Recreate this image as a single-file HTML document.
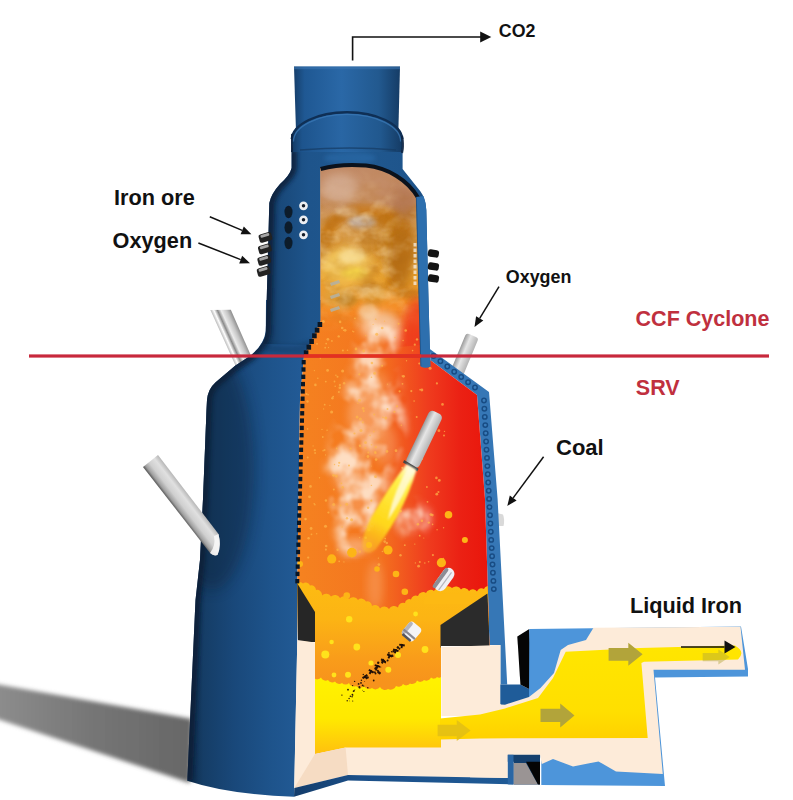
<!DOCTYPE html>
<html><head><meta charset="utf-8">
<style>html,body{margin:0;padding:0;background:#fff}svg{display:block}</style>
</head><body>
<svg width="793" height="800" viewBox="0 0 793 800" font-family="'Liberation Sans', Arial, sans-serif" font-weight="bold">
<defs>
<linearGradient id="gChim" gradientUnits="userSpaceOnUse" x1="294" x2="400" y1="0" y2="0">
 <stop offset="0" stop-color="#163f6b"/><stop offset="0.1" stop-color="#1f5893"/><stop offset="0.45" stop-color="#2a68a7"/><stop offset="0.8" stop-color="#22598f"/><stop offset="1" stop-color="#153c66"/>
</linearGradient>
<linearGradient id="gCol" gradientUnits="userSpaceOnUse" x1="291" x2="403" y1="0" y2="0">
 <stop offset="0" stop-color="#133962"/><stop offset="0.1" stop-color="#1d548d"/><stop offset="0.45" stop-color="#2966a4"/><stop offset="0.8" stop-color="#21588e"/><stop offset="1" stop-color="#143a63"/>
</linearGradient>
<linearGradient id="gCyc" gradientUnits="userSpaceOnUse" x1="268" x2="430" y1="0" y2="0">
 <stop offset="0" stop-color="#143b63"/><stop offset="0.08" stop-color="#19497a"/><stop offset="0.25" stop-color="#1e548b"/><stop offset="0.6" stop-color="#20588f"/><stop offset="0.9" stop-color="#1e548b"/><stop offset="1" stop-color="#1a4b7e"/>
</linearGradient>
<linearGradient id="gBody" gradientUnits="userSpaceOnUse" x1="190" x2="300" y1="0" y2="0">
 <stop offset="0" stop-color="#0f2c4b"/><stop offset="0.12" stop-color="#153d66"/><stop offset="0.4" stop-color="#19487a"/><stop offset="0.75" stop-color="#1e548c"/><stop offset="1" stop-color="#225a95"/>
</linearGradient>
<linearGradient id="gInt" gradientUnits="userSpaceOnUse" x1="300" x2="488" y1="0" y2="0">
 <stop offset="0" stop-color="#f58220"/><stop offset="0.42" stop-color="#f4741f"/><stop offset="0.68" stop-color="#ef3c1e"/><stop offset="0.85" stop-color="#eb2114"/><stop offset="1" stop-color="#e9160c"/>
</linearGradient>
<linearGradient id="gCycInt" gradientUnits="userSpaceOnUse" x1="0" x2="0" y1="165" y2="335">
 <stop offset="0" stop-color="#c08864"/><stop offset="0.22" stop-color="#c9915f"/><stop offset="0.45" stop-color="#d99c45"/><stop offset="0.66" stop-color="#eaa432"/><stop offset="0.85" stop-color="#f58c26"/><stop offset="1" stop-color="#f58220" stop-opacity="0"/>
</linearGradient>
<linearGradient id="gPipe" x1="0" x2="1" y1="0" y2="0">
 <stop offset="0" stop-color="#8d8d8d"/><stop offset="0.35" stop-color="#f4f4f4"/><stop offset="0.7" stop-color="#c8c8c8"/><stop offset="1" stop-color="#8a8a8a"/>
</linearGradient>
<linearGradient id="gPipeLL" x1="0" x2="1" y1="0" y2="0">
 <stop offset="0" stop-color="#8a8a8a"/><stop offset="0.1" stop-color="#c2c2c2"/><stop offset="0.4" stop-color="#e9e9e9"/><stop offset="0.75" stop-color="#d2d2d2"/><stop offset="1" stop-color="#6e6e6e"/>
</linearGradient>
<linearGradient id="gPipeR" x1="0" x2="1" y1="0" y2="0">
 <stop offset="0" stop-color="#9a9a9a"/><stop offset="0.4" stop-color="#e6e6e6"/><stop offset="1" stop-color="#b4b4b4"/>
</linearGradient>
<linearGradient id="gYel" gradientUnits="userSpaceOnUse" x1="0" x2="0" y1="678" y2="752">
 <stop offset="0" stop-color="#fff200"/><stop offset="0.55" stop-color="#ffe900"/><stop offset="1" stop-color="#ffc20e"/>
</linearGradient>
<linearGradient id="gYel2" gradientUnits="userSpaceOnUse" x1="0" x2="0" y1="645" y2="740">
 <stop offset="0" stop-color="#ffe600"/><stop offset="0.7" stop-color="#ffdf00"/><stop offset="1" stop-color="#ffd000"/>
</linearGradient>
<linearGradient id="gShadow" gradientUnits="userSpaceOnUse" x1="0" x2="190" y1="0" y2="0">
 <stop offset="0" stop-color="#8c8c8c"/><stop offset="0.5" stop-color="#757575"/><stop offset="1" stop-color="#676767"/>
</linearGradient>
<linearGradient id="gFlame" gradientUnits="userSpaceOnUse" x1="412" x2="366" y1="466" y2="546">
 <stop offset="0" stop-color="#fffbe6"/><stop offset="0.2" stop-color="#fff04a"/><stop offset="0.7" stop-color="#ffd71a"/><stop offset="1" stop-color="#ffc320" stop-opacity="0.5"/>
</linearGradient>
<filter id="fCloudA" x="0" y="0" width="100%" height="100%" color-interpolation-filters="sRGB"><feTurbulence type="fractalNoise" baseFrequency="0.045 0.06" numOctaves="3" seed="11"/><feColorMatrix type="matrix" values="0 0 0 0 0.70  0 0 0 0 0.42  0 0 0 0 0.08  2.6 0 0 0 -1.05"/></filter>
<filter id="fCloudB" x="0" y="0" width="100%" height="100%" color-interpolation-filters="sRGB"><feTurbulence type="fractalNoise" baseFrequency="0.05 0.07" numOctaves="3" seed="29"/><feColorMatrix type="matrix" values="0 0 0 0 0.97  0 0 0 0 0.86  0 0 0 0 0.66  0 2.6 0 0 -1.15"/></filter>
<filter id="fSmoke" x="-20%" y="-10%" width="140%" height="120%" color-interpolation-filters="sRGB"><feGaussianBlur in="SourceAlpha" stdDeviation="5" result="shape"/><feTurbulence type="fractalNoise" baseFrequency="0.045 0.04" numOctaves="3" seed="8" result="n"/><feColorMatrix in="n" type="matrix" values="0 0 0 0 1  0 0 0 0 0.94  0 0 0 0 0.88  3.4 0 0 0 -1.35" result="wn"/><feComposite in="wn" in2="shape" operator="in" result="c"/><feGaussianBlur in="c" stdDeviation="0.8"/></filter>
<filter id="b05" x="-20%" y="-20%" width="140%" height="140%"><feGaussianBlur stdDeviation="0.6"/></filter>
<filter id="b1" x="-20%" y="-20%" width="140%" height="140%"><feGaussianBlur stdDeviation="1.2"/></filter>
<filter id="b2" x="-30%" y="-30%" width="160%" height="160%"><feGaussianBlur stdDeviation="2.2"/></filter>
<filter id="b4" x="-30%" y="-30%" width="160%" height="160%"><feGaussianBlur stdDeviation="4"/></filter>
<filter id="b7" x="-40%" y="-40%" width="180%" height="180%"><feGaussianBlur stdDeviation="7"/></filter>
<clipPath id="cInt"><path d="M320.6 168 C335 164 352 163.3 366 164.6 C388 167 408 179 418 197 L420.7 366 L430.8 360.5 L477 395 L485 499 L488 593.5 L489.4 646 L441 646 L441 748 L345.6 748 L315 754 L315 642 L298 642 L297.3 583 L300 400 L304 356 L320.6 321 Z"/></clipPath>
<clipPath id="cCyc"><path d="M320.6 168 C335 164 352 163.3 366 164.6 C388 167 408 179 418 197 L420.5 345 L304 356 L320.6 321 Z"/></clipPath>
</defs>

<path d="M-10 683 L192 719 L190 783 L-10 716.5 Z" fill="url(#gShadow)" filter="url(#b2)"/>
<linearGradient id="gPipeUL" gradientUnits="userSpaceOnUse" x1="216" y1="330" x2="236" y2="321"><stop offset="0" stop-color="#666"/><stop offset="0.12" stop-color="#b0b0b0"/><stop offset="0.28" stop-color="#ffffff"/><stop offset="0.43" stop-color="#8a8a8a"/><stop offset="0.58" stop-color="#ececec"/><stop offset="0.8" stop-color="#c6c6c6"/><stop offset="1" stop-color="#8c8c8c"/></linearGradient>
<path d="M210.4 310 L230.8 309.7 L252 358 L238 371 Z" fill="url(#gPipeUL)"/>
<g transform="translate(472.5 335.5) rotate(22.57)"><rect x="-6.75" y="0" width="13.5" height="41.7" fill="url(#gPipeR)" rx="3"/></g>
<path d="M497 513 L503 514.5 Q505 520 503.5 526 L498 526 Z" fill="#d9d9d9"/>
<clipPath id="cLeft"><path d="M291.6 150 L291.6 168 Q290 175 280 184 Q271 194 269.3 203 L265.8 333 Q264 345 250 356 L235.4 365.6 L215.7 382.3 Q208 389 207 400 L206.5 410 L203 499 L200 560 L195.5 600 L187.3 780.8 Q228 794.5 294 796.8 L297.3 640 L297.3 583 L300 400 L304 356 L320.6 321 L320.6 150 Z"/></clipPath>
<path d="M265.8 331 Q264 345 250 356 L235.4 365.6 L215.7 382.3 Q208 389 207 400 L206.5 410 L203 499 L200 560 L195.5 600 L187.3 780.8 Q228 794.5 294 796.8 L297.3 640 L297.3 583 L300 400 L304 356 L320.6 321 L320.6 300 L266 300 Z" fill="url(#gBody)"/>
<path d="M269.3 203 Q271 194 280 184 Q290 175 291.6 168 L291.6 150 L402.6 150 L402.6 169 L420.5 191.5 Q425.5 198 426.3 210 L428.5 300 L429.8 349 L430.8 366 L420.7 367 L416.5 196 L320.6 168 L320.6 321 L310 345 L264 344 L265.8 333 Z" fill="url(#gCyc)"/>
<g clip-path="url(#cLeft)"><path d="M291.6 150 L291.6 168 Q290 175 280 184 Q271 194 269.3 203 L265.8 333 Q264 345 250 356 L235.4 365.6 L215.7 382.3 Q208 389 207 400 L206.5 410 L203 499 L200 560 L195.5 600 L187.3 780.8" fill="none" stroke="#081d34" stroke-width="11" opacity="0.8" filter="url(#b2)"/>
<path d="M262 342 Q290 350 312 340 L304 356 L262 352 Z" fill="#0d2a4a" opacity="0.35" filter="url(#b2)"/>
<ellipse cx="212" cy="470" rx="42" ry="120" fill="#0a2038" opacity="0.42" filter="url(#b7)"/>
<linearGradient id="gBot" gradientUnits="userSpaceOnUse" x1="0" x2="0" y1="600" y2="800"><stop offset="0" stop-color="#0d2744" stop-opacity="0"/><stop offset="1" stop-color="#0d2744" stop-opacity="0.0"/></linearGradient><rect x="180" y="600" width="125" height="200" fill="url(#gBot)"/>
</g>
<path d="M294 66.5 L400 66.5 L398.2 138 L296.2 138 Z" fill="url(#gChim)"/>
<path d="M294 66.5 L400 66.5 L400 69.3 L294 69.3 Z" fill="#3a75b0" opacity="0.6"/>
<path d="M291.5 139 A55.5 28 0 0 1 402.6 139 L402.6 152 L291.5 152 Z" fill="url(#gCol)"/>
<path d="M291.8 139 A55.3 28 0 0 1 402.3 139" fill="none" stroke="#0f2f55" stroke-width="2.4"/>
<path d="M293.5 141.5 A53.5 27 0 0 1 400.6 141.5" fill="none" stroke="#3b79b7" stroke-width="1.3" opacity="0.75"/>
<path d="M292.3 134 Q290.3 143 292.3 152" fill="none" stroke="#0b2340" stroke-width="2.6" opacity="0.9" filter="url(#b05)"/>
<path d="M401.9 136 Q403.9 145 401.9 153" fill="none" stroke="#0b2340" stroke-width="2.4" opacity="0.85" filter="url(#b05)"/>
<path d="M300 150 Q351 146 396 150" fill="none" stroke="#153a63" stroke-width="1.6" opacity="0.7"/>
<ellipse cx="350" cy="158" rx="26" ry="6" fill="#2f72b4" opacity="0.45" filter="url(#b2)"/>
<path d="M429.8 349 L489 392 L497.6 499 L507.2 684.4 L500.3 684.4 L500.3 645 L489.4 645 L488 593.5 L485 499 L477 395 L430.8 360.5 Z" fill="#3677b6"/>
<g clip-path="url(#cInt)">
<rect x="290" y="150" width="210" height="610" fill="url(#gInt)"/>
<g clip-path="url(#cCyc)">
<rect x="300" y="150" width="130" height="210" fill="url(#gCycInt)"/>
<ellipse cx="338" cy="186" rx="16" ry="14" fill="#d3ad92" opacity="0.7" filter="url(#b4)"/>
<ellipse cx="398" cy="192" rx="20" ry="18" fill="#b57852" opacity="0.65" filter="url(#b4)"/>
<ellipse cx="372" cy="180" rx="20" ry="8" fill="#c79273" opacity="0.6" filter="url(#b4)"/>
<path d="M322 232 Q328 210 358 203 Q392 202 408 222 Q416 244 404 270 Q396 286 384 290 Q400 262 392 236 Q380 216 356 216 Q336 220 330 240 Q326 250 322 246 Z" fill="#c87715" opacity="0.85" filter="url(#b2)"/>
<ellipse cx="398" cy="258" rx="14" ry="28" fill="#bd7416" opacity="0.8" filter="url(#b4)"/>
<ellipse cx="384" cy="246" rx="10" ry="14" fill="#c47a18" opacity="0.7" filter="url(#b4)"/>
<ellipse cx="332" cy="236" rx="10" ry="12" fill="#d0831e" opacity="0.65" filter="url(#b4)"/>
<ellipse cx="362" cy="222" rx="14" ry="7" fill="#c2b1a6" opacity="0.85" filter="url(#b2)"/>
<ellipse cx="346" cy="212" rx="12" ry="5" fill="#dcc0a2" opacity="0.6" filter="url(#b2)"/>
<ellipse cx="346" cy="262" rx="24" ry="12" fill="#efc05a" opacity="0.85" filter="url(#b4)"/>
<ellipse cx="354" cy="273" rx="13" ry="5.5" fill="#f8e22e" opacity="0.9" filter="url(#b2)"/>
<ellipse cx="338" cy="296" rx="16" ry="12" fill="#dca440" opacity="0.75" filter="url(#b4)"/>
<ellipse cx="372" cy="292" rx="16" ry="12" fill="#d39a34" opacity="0.6" filter="url(#b4)"/>
<ellipse cx="348" cy="300" rx="10" ry="6" fill="#b9862c" opacity="0.55" filter="url(#b2)"/>
<linearGradient id="gFade" gradientUnits="userSpaceOnUse" x1="0" x2="0" y1="292" y2="332"><stop offset="0" stop-color="#fff"/><stop offset="1" stop-color="#000"/></linearGradient><mask id="mFade" maskUnits="userSpaceOnUse" x="300" y="150" width="140" height="200"><rect x="300" y="150" width="140" height="200" fill="url(#gFade)"/></mask>
<g mask="url(#mFade)"><rect x="318" y="160" width="104" height="175" filter="url(#fCloudA)" opacity="0.55"/>
<rect x="318" y="160" width="104" height="175" filter="url(#fCloudB)" opacity="0.5"/></g>
<ellipse cx="346" cy="268" rx="24" ry="20" fill="#f6cf62" opacity="0.5" filter="url(#b4)"/>
<ellipse cx="352" cy="256" rx="14" ry="7" fill="#fbe9b0" opacity="0.5" filter="url(#b2)"/>
<ellipse cx="402" cy="250" rx="12" ry="40" fill="#b06a12" opacity="0.5" filter="url(#b4)"/>
<ellipse cx="388" cy="222" rx="14" ry="10" fill="#b8700f" opacity="0.4" filter="url(#b4)"/>
<linearGradient id="gCop" gradientUnits="userSpaceOnUse" x1="0" x2="0" y1="165" y2="214"><stop offset="0" stop-color="#c18a66" stop-opacity="0.95"/><stop offset="0.6" stop-color="#c58d66" stop-opacity="0.7"/><stop offset="1" stop-color="#c8905f" stop-opacity="0"/></linearGradient>
<rect x="318" y="160" width="104" height="56" fill="url(#gCop)"/>
<ellipse cx="340" cy="188" rx="18" ry="14" fill="#dab8a2" opacity="0.6" filter="url(#b4)"/>
<ellipse cx="404" cy="202" rx="12" ry="16" fill="#ad6f4e" opacity="0.55" filter="url(#b4)"/>
<ellipse cx="418" cy="338" rx="16" ry="40" fill="#ef3a1e" opacity="0.75" filter="url(#b4)"/>
<ellipse cx="380" cy="326" rx="20" ry="15" fill="#fbdcc0" opacity="0.7" filter="url(#b4)"/>
<ellipse cx="368" cy="312" rx="10" ry="8" fill="#f6d9b6" opacity="0.6" filter="url(#b2)"/>
</g>
<path d="M330 283 l9 -3 l1 3 l-9 3 z" fill="#b5b0a0" opacity="0.9"/>
<path d="M330 296 l9 -3 l1 3 l-9 3 z" fill="#b5b0a0" opacity="0.9"/>
<path d="M330 309 l9 -3 l1 3 l-9 3 z" fill="#b5b0a0" opacity="0.9"/>
<rect x="413.5" y="243" width="3" height="3.5" fill="#f4e9d8" opacity="0.8"/>
<rect x="413.5" y="248.5" width="3" height="3.5" fill="#f4e9d8" opacity="0.8"/>
<rect x="413.5" y="254" width="3" height="3.5" fill="#f4e9d8" opacity="0.8"/>
<rect x="413.5" y="259.5" width="3" height="3.5" fill="#f4e9d8" opacity="0.8"/>
<rect x="413.5" y="265" width="3" height="3.5" fill="#f4e9d8" opacity="0.8"/>
<rect x="413.5" y="270.5" width="3" height="3.5" fill="#f4e9d8" opacity="0.8"/>
<rect x="413.5" y="276" width="3" height="3.5" fill="#f4e9d8" opacity="0.8"/>
<rect x="413.5" y="281.5" width="3" height="3.5" fill="#f4e9d8" opacity="0.8"/>
<ellipse cx="368" cy="415" rx="20" ry="26" fill="#ffe9d6" opacity="0.3" filter="url(#b4)"/>
<ellipse cx="348" cy="470" rx="16" ry="24" fill="#ffe9d6" opacity="0.26" filter="url(#b4)"/>
<ellipse cx="385" cy="445" rx="12" ry="20" fill="#ffe9d6" opacity="0.2" filter="url(#b4)"/>
<ellipse cx="360" cy="500" rx="18" ry="22" fill="#ffe9d6" opacity="0.22" filter="url(#b4)"/>
<ellipse cx="408" cy="522" rx="14" ry="12" fill="#ffe9d6" opacity="0.28" filter="url(#b4)"/>
<ellipse cx="372" cy="385" rx="18" ry="14" fill="#ffe9d6" opacity="0.18" filter="url(#b4)"/>
<ellipse cx="355" cy="546" rx="16" ry="8" fill="#ffe9d6" opacity="0.4" filter="url(#b4)"/>
<ellipse cx="375" cy="585" rx="8" ry="24" fill="#ffe9d6" opacity="0.2" filter="url(#b4)"/>
<path d="M362 318 Q392 312 398 336 Q398 356 392 372 Q400 384 402 400 Q410 436 392 470 Q384 500 372 530 Q366 552 350 556 Q336 548 336 524 Q322 496 328 462 Q334 430 344 404 Q344 384 356 366 Q354 336 362 318 Z M396 500 Q420 496 430 516 Q428 536 408 538 Q394 530 396 500 Z" fill="#fff" filter="url(#fSmoke)" opacity="0.8"/>
<circle cx="350.3" cy="356.0" r="1.2" fill="#fdb648" opacity="0.7"/>
<circle cx="315.1" cy="453.0" r="0.9" fill="#fdb648" opacity="0.7"/>
<circle cx="313.1" cy="445.9" r="0.6" fill="#fdb648" opacity="0.7"/>
<circle cx="365.7" cy="335.6" r="0.7" fill="#fdb648" opacity="0.7"/>
<circle cx="364.4" cy="526.4" r="0.7" fill="#fdb648" opacity="0.7"/>
<circle cx="336.3" cy="476.1" r="1.5" fill="#fdb648" opacity="0.7"/>
<circle cx="385.8" cy="418.0" r="1.5" fill="#fdb648" opacity="0.7"/>
<circle cx="311.5" cy="534.3" r="0.9" fill="#fdb648" opacity="0.7"/>
<circle cx="325.2" cy="347.7" r="0.9" fill="#fdb648" opacity="0.7"/>
<circle cx="419.3" cy="363.5" r="1.1" fill="#fdb648" opacity="0.7"/>
<circle cx="394.4" cy="411.8" r="1.1" fill="#fdb648" opacity="0.7"/>
<circle cx="333.8" cy="489.5" r="1.0" fill="#fdb648" opacity="0.7"/>
<circle cx="349.0" cy="465.6" r="1.0" fill="#fdb648" opacity="0.7"/>
<circle cx="347.0" cy="518.2" r="1.2" fill="#fdb648" opacity="0.7"/>
<circle cx="339.2" cy="462.8" r="1.1" fill="#fdb648" opacity="0.7"/>
<circle cx="427.5" cy="501.8" r="0.9" fill="#fdb648" opacity="0.7"/>
<circle cx="442.2" cy="347.8" r="1.0" fill="#fdb648" opacity="0.7"/>
<circle cx="411.0" cy="356.3" r="1.0" fill="#fdb648" opacity="0.7"/>
<circle cx="310.5" cy="486.4" r="1.3" fill="#fdb648" opacity="0.7"/>
<circle cx="385.2" cy="538.6" r="0.9" fill="#fdb648" opacity="0.7"/>
<circle cx="402.3" cy="467.8" r="1.1" fill="#fdb648" opacity="0.7"/>
<circle cx="368.9" cy="529.7" r="1.5" fill="#fdb648" opacity="0.7"/>
<circle cx="371.4" cy="485.4" r="0.7" fill="#fdb648" opacity="0.7"/>
<circle cx="403.2" cy="481.1" r="1.5" fill="#fdb648" opacity="0.7"/>
<circle cx="420.1" cy="389.7" r="0.9" fill="#fdb648" opacity="0.7"/>
<circle cx="398.6" cy="323.7" r="1.0" fill="#fdb648" opacity="0.7"/>
<circle cx="328.5" cy="347.5" r="0.7" fill="#fdb648" opacity="0.7"/>
<circle cx="412.6" cy="350.6" r="0.8" fill="#fdb648" opacity="0.7"/>
<circle cx="359.7" cy="537.6" r="0.7" fill="#fdb648" opacity="0.7"/>
<circle cx="367.9" cy="456.5" r="1.4" fill="#fdb648" opacity="0.7"/>
<circle cx="419.7" cy="535.7" r="0.9" fill="#fdb648" opacity="0.7"/>
<circle cx="363.1" cy="408.4" r="1.4" fill="#fdb648" opacity="0.7"/>
<circle cx="439.1" cy="356.0" r="0.8" fill="#fdb648" opacity="0.7"/>
<circle cx="337.5" cy="376.8" r="1.0" fill="#fdb648" opacity="0.7"/>
<circle cx="387.5" cy="384.2" r="0.6" fill="#fdb648" opacity="0.7"/>
<circle cx="363.7" cy="411.1" r="1.1" fill="#fdb648" opacity="0.7"/>
<circle cx="438.4" cy="492.0" r="1.1" fill="#fdb648" opacity="0.7"/>
<circle cx="391.5" cy="488.4" r="0.6" fill="#fdb648" opacity="0.7"/>
<circle cx="430.9" cy="514.6" r="1.4" fill="#fdb648" opacity="0.7"/>
<circle cx="416.7" cy="416.9" r="1.0" fill="#fdb648" opacity="0.7"/>
<circle cx="319.5" cy="477.8" r="0.7" fill="#fdb648" opacity="0.7"/>
<circle cx="314.4" cy="370.6" r="0.7" fill="#fdb648" opacity="0.7"/>
<circle cx="352.6" cy="331.2" r="0.6" fill="#fdb648" opacity="0.7"/>
<circle cx="326.2" cy="343.6" r="0.9" fill="#fdb648" opacity="0.7"/>
<circle cx="308.6" cy="538.3" r="1.2" fill="#fdb648" opacity="0.7"/>
<circle cx="325.8" cy="381.6" r="0.9" fill="#fdb648" opacity="0.7"/>
<circle cx="356.0" cy="349.0" r="1.4" fill="#fdb648" opacity="0.7"/>
<circle cx="444.0" cy="435.4" r="1.0" fill="#fdb648" opacity="0.7"/>
<circle cx="317.0" cy="343.8" r="0.9" fill="#fdb648" opacity="0.7"/>
<circle cx="342.1" cy="526.9" r="0.7" fill="#fdb648" opacity="0.7"/>
<circle cx="308.2" cy="557.6" r="1.1" fill="#fdb648" opacity="0.7"/>
<circle cx="325.5" cy="454.9" r="0.6" fill="#fdb648" opacity="0.7"/>
<circle cx="378.9" cy="564.6" r="1.4" fill="#fdb648" opacity="0.7"/>
<circle cx="402.5" cy="383.8" r="0.9" fill="#fdb648" opacity="0.7"/>
<circle cx="328.4" cy="512.5" r="1.1" fill="#fdb648" opacity="0.7"/>
<circle cx="414.1" cy="401.1" r="0.8" fill="#fdb648" opacity="0.7"/>
<circle cx="418.6" cy="566.2" r="1.4" fill="#fdb648" opacity="0.7"/>
<circle cx="417.9" cy="524.2" r="1.3" fill="#fdb648" opacity="0.7"/>
<circle cx="336.7" cy="448.4" r="0.9" fill="#fdb648" opacity="0.7"/>
<circle cx="344.1" cy="383.3" r="1.2" fill="#fdb648" opacity="0.7"/>
<circle cx="438.9" cy="430.7" r="1.4" fill="#fdb648" opacity="0.7"/>
<circle cx="443.3" cy="558.7" r="0.9" fill="#fdb648" opacity="0.7"/>
<circle cx="335.9" cy="375.2" r="0.8" fill="#fdb648" opacity="0.7"/>
<circle cx="333.6" cy="475.3" r="1.4" fill="#fdb648" opacity="0.7"/>
<circle cx="422.7" cy="438.8" r="1.2" fill="#fdb648" opacity="0.7"/>
<circle cx="417.0" cy="339.4" r="1.2" fill="#fdb648" opacity="0.7"/>
<circle cx="432.4" cy="515.1" r="1.3" fill="#fdb648" opacity="0.7"/>
<circle cx="371.9" cy="363.0" r="1.3" fill="#fdb648" opacity="0.7"/>
<circle cx="351.6" cy="519.8" r="1.5" fill="#fdb648" opacity="0.7"/>
<circle cx="360.4" cy="419.1" r="1.5" fill="#fdb648" opacity="0.7"/>
<circle cx="406.5" cy="360.8" r="0.7" fill="#fdb648" opacity="0.7"/>
<circle cx="326.2" cy="546.0" r="1.3" fill="#fdb648" opacity="0.7"/>
<circle cx="325.5" cy="526.3" r="1.5" fill="#fdb648" opacity="0.7"/>
<circle cx="397.0" cy="406.3" r="1.1" fill="#fdb648" opacity="0.7"/>
<circle cx="323.3" cy="321.6" r="1.5" fill="#fdb648" opacity="0.7"/>
<circle cx="396.0" cy="450.7" r="1.4" fill="#fdb648" opacity="0.7"/>
<circle cx="365.7" cy="537.7" r="1.3" fill="#fdb648" opacity="0.7"/>
<circle cx="334.5" cy="381.5" r="0.9" fill="#fdb648" opacity="0.7"/>
<circle cx="338.7" cy="465.8" r="0.8" fill="#fdb648" opacity="0.7"/>
<circle cx="363.7" cy="351.0" r="1.4" fill="#fdb648" opacity="0.7"/>
<circle cx="354.5" cy="433.5" r="1.1" fill="#fdb648" opacity="0.7"/>
<circle cx="431.6" cy="424.0" r="1.4" fill="#fdb648" opacity="0.7"/>
<circle cx="375.2" cy="452.0" r="1.1" fill="#fdb648" opacity="0.7"/>
<circle cx="307.6" cy="428.9" r="0.8" fill="#fdb648" opacity="0.7"/>
<circle cx="305.6" cy="519.4" r="0.8" fill="#fdb648" opacity="0.7"/>
<circle cx="371.3" cy="500.7" r="1.1" fill="#fdb648" opacity="0.7"/>
<circle cx="350.6" cy="448.6" r="1.1" fill="#fdb648" opacity="0.7"/>
<circle cx="414.8" cy="344.7" r="1.1" fill="#fdb648" opacity="0.7"/>
<circle cx="339.8" cy="387.8" r="1.3" fill="#fdb648" opacity="0.7"/>
<circle cx="376.1" cy="459.6" r="1.3" fill="#fdb648" opacity="0.7"/>
<circle cx="432.7" cy="429.7" r="1.2" fill="#fdb648" opacity="0.7"/>
<circle cx="375.8" cy="447.1" r="1.2" fill="#fdb648" opacity="0.7"/>
<circle cx="368.3" cy="452.4" r="1.0" fill="#fdb648" opacity="0.7"/>
<circle cx="436.8" cy="494.2" r="1.4" fill="#fdb648" opacity="0.7"/>
<circle cx="436.9" cy="383.4" r="1.1" fill="#fdb648" opacity="0.7"/>
<circle cx="437.1" cy="529.7" r="0.7" fill="#fdb648" opacity="0.7"/>
<circle cx="322.0" cy="429.4" r="0.7" fill="#fdb648" opacity="0.7"/>
<circle cx="338.7" cy="336.4" r="1.2" fill="#fdb648" opacity="0.7"/>
<circle cx="414.8" cy="544.1" r="0.7" fill="#fdb648" opacity="0.7"/>
<circle cx="405.3" cy="484.4" r="0.7" fill="#fdb648" opacity="0.7"/>
<circle cx="428.6" cy="561.8" r="0.8" fill="#fdb648" opacity="0.7"/>
<circle cx="438.4" cy="418.4" r="1.0" fill="#fdb648" opacity="0.7"/>
<circle cx="443.6" cy="527.8" r="0.7" fill="#fdb648" opacity="0.7"/>
<circle cx="365.4" cy="447.9" r="0.9" fill="#fdb648" opacity="0.7"/>
<circle cx="332.4" cy="398.3" r="1.2" fill="#fdb648" opacity="0.7"/>
<circle cx="307.7" cy="457.6" r="1.0" fill="#fdb648" opacity="0.7"/>
<circle cx="307.5" cy="401.5" r="1.2" fill="#fdb648" opacity="0.7"/>
<circle cx="376.7" cy="334.2" r="1.5" fill="#fdb648" opacity="0.7"/>
<circle cx="415.4" cy="562.9" r="0.7" fill="#fdb648" opacity="0.7"/>
<circle cx="342.2" cy="328.0" r="1.3" fill="#fdb648" opacity="0.7"/>
<circle cx="342.9" cy="350.6" r="1.0" fill="#fdb648" opacity="0.7"/>
<circle cx="432.6" cy="524.4" r="0.8" fill="#fdb648" opacity="0.7"/>
<circle cx="325.9" cy="549.6" r="1.1" fill="#fdb648" opacity="0.7"/>
<circle cx="403.1" cy="340.5" r="0.7" fill="#fdb648" opacity="0.7"/>
<circle cx="401.3" cy="425.2" r="0.7" fill="#fdb648" opacity="0.7"/>
<circle cx="436.4" cy="477.9" r="1.3" fill="#fdb648" opacity="0.7"/>
<circle cx="316.7" cy="533.8" r="0.7" fill="#fdb648" opacity="0.7"/>
<circle cx="425.8" cy="432.4" r="0.9" fill="#fdb648" opacity="0.7"/>
<circle cx="382.4" cy="551.5" r="0.8" fill="#fdb648" opacity="0.7"/>
<circle cx="323.1" cy="450.8" r="0.8" fill="#fdb648" opacity="0.7"/>
<circle cx="320.3" cy="358.7" r="0.6" fill="#fdb648" opacity="0.7"/>
<circle cx="333.2" cy="396.6" r="0.9" fill="#fdb648" opacity="0.7"/>
<circle cx="411.3" cy="391.1" r="1.1" fill="#fdb648" opacity="0.7"/>
<circle cx="329.9" cy="405.4" r="0.6" fill="#fdb648" opacity="0.7"/>
<circle cx="340.1" cy="321.9" r="1.3" fill="#fdb648" opacity="0.7"/>
<circle cx="382.1" cy="365.7" r="1.0" fill="#fdb648" opacity="0.7"/>
<circle cx="435.8" cy="344.8" r="1.3" fill="#fdb648" opacity="0.7"/>
<circle cx="365.5" cy="442.7" r="1.4" fill="#fdb648" opacity="0.7"/>
<circle cx="360.0" cy="445.7" r="1.2" fill="#fdb648" opacity="0.7"/>
<circle cx="442.5" cy="404.4" r="1.3" fill="#fdb648" opacity="0.7"/>
<circle cx="403.9" cy="478.3" r="1.0" fill="#fdb648" opacity="0.7"/>
<circle cx="353.7" cy="331.7" r="0.7" fill="#fdb648" opacity="0.7"/>
<circle cx="314.9" cy="504.7" r="0.8" fill="#fdb648" opacity="0.7"/>
<circle cx="327.9" cy="339.3" r="1.4" fill="#fdb648" opacity="0.7"/>
<circle cx="426.9" cy="487.0" r="0.9" fill="#fdb648" opacity="0.7"/>
<circle cx="338.9" cy="391.9" r="1.0" fill="#fdb648" opacity="0.7"/>
<circle cx="327.1" cy="430.3" r="0.8" fill="#fdb648" opacity="0.7"/>
<circle cx="439.7" cy="563.1" r="1.1" fill="#fdb648" opacity="0.7"/>
<circle cx="339.2" cy="561.3" r="0.9" fill="#fdb648" opacity="0.7"/>
<circle cx="354.9" cy="318.3" r="0.9" fill="#fdb648" opacity="0.7"/>
<circle cx="371.5" cy="444.7" r="0.8" fill="#fdb648" opacity="0.7"/>
<circle cx="375.7" cy="319.2" r="0.8" fill="#fdb648" opacity="0.7"/>
<circle cx="317.6" cy="418.7" r="0.6" fill="#fdb648" opacity="0.7"/>
<circle cx="308.1" cy="394.7" r="0.8" fill="#fdb648" opacity="0.7"/>
<circle cx="387.0" cy="451.4" r="1.3" fill="#fdb648" opacity="0.7"/>
<circle cx="397.1" cy="498.4" r="1.4" fill="#fdb648" opacity="0.7"/>
<circle cx="359.5" cy="400.2" r="1.5" fill="#fdb648" opacity="0.7"/>
<circle cx="325.9" cy="500.5" r="1.2" fill="#fdb648" opacity="0.7"/>
<circle cx="311.1" cy="528.5" r="1.4" fill="#fdb648" opacity="0.7"/>
<circle cx="392.8" cy="502.9" r="1.3" fill="#fdb648" opacity="0.7"/>
<circle cx="324.5" cy="450.0" r="1.1" fill="#fdb648" opacity="0.7"/>
<circle cx="421.9" cy="520.8" r="1.3" fill="#fdb648" opacity="0.7"/>
<circle cx="386.8" cy="543.0" r="1.2" fill="#fdb648" opacity="0.7"/>
<circle cx="402.1" cy="375.9" r="0.6" fill="#fdb648" opacity="0.7"/>
<circle cx="323.6" cy="408.9" r="0.7" fill="#fdb648" opacity="0.7"/>
<circle cx="422.0" cy="458.7" r="1.2" fill="#fdb648" opacity="0.7"/>
<circle cx="392.7" cy="489.5" r="1.0" fill="#fdb648" opacity="0.7"/>
<circle cx="305.5" cy="519.0" r="1.3" fill="#fdb648" opacity="0.7"/>
<circle cx="375.4" cy="452.9" r="1.2" fill="#fdb648" opacity="0.7"/>
<circle cx="314.2" cy="503.7" r="0.8" fill="#fdb648" opacity="0.7"/>
<circle cx="315.4" cy="384.9" r="1.3" fill="#fdb648" opacity="0.7"/>
<circle cx="333.7" cy="504.4" r="1.5" fill="#fdb648" opacity="0.7"/>
<circle cx="374.2" cy="414.4" r="1.0" fill="#fdb648" opacity="0.7"/>
<circle cx="400.7" cy="511.3" r="1.2" fill="#fdb648" opacity="0.7"/>
<circle cx="395.0" cy="337.5" r="0.7" fill="#fdb648" opacity="0.7"/>
<circle cx="340.6" cy="505.3" r="0.9" fill="#fdb648" opacity="0.7"/>
<circle cx="384.5" cy="321.1" r="0.7" fill="#fdb648" opacity="0.7"/>
<circle cx="342.6" cy="487.3" r="1.2" fill="#fdb648" opacity="0.7"/>
<circle cx="399.6" cy="391.3" r="1.1" fill="#fdb648" opacity="0.7"/>
<circle cx="370.1" cy="435.5" r="0.7" fill="#fdb648" opacity="0.7"/>
<circle cx="430.1" cy="368.2" r="1.5" fill="#fdb648" opacity="0.7"/>
<circle cx="436.1" cy="322.4" r="1.0" fill="#fdb648" opacity="0.7"/>
<circle cx="419.8" cy="562.0" r="1.0" fill="#fdb648" opacity="0.7"/>
<circle cx="342.6" cy="370.9" r="1.5" fill="#fdb648" opacity="0.7"/>
<circle cx="334.5" cy="464.5" r="0.7" fill="#fdb648" opacity="0.7"/>
<circle cx="378.4" cy="558.1" r="0.7" fill="#fdb648" opacity="0.7"/>
<circle cx="419.8" cy="446.2" r="1.4" fill="#fdb648" opacity="0.7"/>
<circle cx="403.5" cy="376.3" r="1.4" fill="#fdb648" opacity="0.7"/>
<circle cx="373.1" cy="324.3" r="0.6" fill="#fdb648" opacity="0.7"/>
<circle cx="373.8" cy="431.6" r="0.9" fill="#fdb648" opacity="0.7"/>
<circle cx="324.7" cy="404.7" r="0.9" fill="#fdb648" opacity="0.7"/>
<circle cx="422.6" cy="318.4" r="1.3" fill="#fdb648" opacity="0.7"/>
<circle cx="422.5" cy="348.3" r="1.4" fill="#fdb648" opacity="0.7"/>
<circle cx="404.8" cy="545.2" r="0.9" fill="#fdb648" opacity="0.7"/>
<circle cx="357.1" cy="417.0" r="1.5" fill="#fdb648" opacity="0.7"/>
<circle cx="387.5" cy="408.9" r="1.0" fill="#fdb648" opacity="0.7"/>
<circle cx="343.5" cy="330.2" r="0.7" fill="#fdb648" opacity="0.7"/>
<circle cx="421.9" cy="390.0" r="1.4" fill="#fdb648" opacity="0.7"/>
<circle cx="339.9" cy="385.0" r="1.1" fill="#fdb648" opacity="0.7"/>
<circle cx="331.6" cy="412.1" r="1.5" fill="#fdb648" opacity="0.7"/>
<circle cx="428.8" cy="522.6" r="1.2" fill="#fdb648" opacity="0.7"/>
<circle cx="432.9" cy="555.1" r="1.1" fill="#fdb648" opacity="0.7"/>
<circle cx="405.7" cy="330.5" r="1.3" fill="#fdb648" opacity="0.7"/>
<circle cx="368.1" cy="507.7" r="1.2" fill="#fdb648" opacity="0.7"/>
<circle cx="345.1" cy="330.3" r="1.4" fill="#fdb648" opacity="0.7"/>
<circle cx="322.8" cy="437.0" r="0.9" fill="#fdb648" opacity="0.7"/>
<circle cx="346.7" cy="504.2" r="1.5" fill="#fdb648" opacity="0.7"/>
<circle cx="341.4" cy="483.3" r="0.9" fill="#fdb648" opacity="0.7"/>
<circle cx="383.0" cy="417.4" r="0.8" fill="#fdb648" opacity="0.7"/>
<circle cx="327.6" cy="370.4" r="1.4" fill="#fdb648" opacity="0.7"/>
<circle cx="374.6" cy="373.4" r="1.4" fill="#fdb648" opacity="0.7"/>
<circle cx="444.5" cy="431.4" r="0.7" fill="#fdb648" opacity="0.7"/>
<circle cx="331.9" cy="340.9" r="0.9" fill="#fdb648" opacity="0.7"/>
<circle cx="317.8" cy="378.3" r="0.8" fill="#fdb648" opacity="0.7"/>
<circle cx="384.7" cy="541.6" r="1.3" fill="#fdb648" opacity="0.7"/>
<circle cx="362.8" cy="422.3" r="1.1" fill="#fdb648" opacity="0.7"/>
<circle cx="357.8" cy="403.2" r="0.7" fill="#fdb648" opacity="0.7"/>
<circle cx="343.9" cy="561.9" r="0.7" fill="#fdb648" opacity="0.7"/>
<circle cx="375.5" cy="476.7" r="1.4" fill="#fdb648" opacity="0.7"/>
<circle cx="335.2" cy="386.3" r="0.8" fill="#fdb648" opacity="0.7"/>
<circle cx="361.0" cy="430.4" r="1.5" fill="#fdb648" opacity="0.7"/>
<circle cx="423.8" cy="538.0" r="0.6" fill="#fdb648" opacity="0.7"/>
<circle cx="309.5" cy="496.8" r="1.4" fill="#fdb648" opacity="0.7"/>
<circle cx="371.3" cy="466.0" r="0.6" fill="#fdb648" opacity="0.7"/>
<circle cx="359.8" cy="551.6" r="1.3" fill="#fdb648" opacity="0.7"/>
<circle cx="424.8" cy="563.0" r="0.8" fill="#fdb648" opacity="0.7"/>
<circle cx="320.3" cy="356.9" r="1.1" fill="#fdb648" opacity="0.7"/>
<circle cx="400.5" cy="555.3" r="1.2" fill="#fdb648" opacity="0.7"/>
<circle cx="395.6" cy="510.7" r="1.0" fill="#fdb648" opacity="0.7"/>
<circle cx="382.2" cy="328.0" r="1.3" fill="#fdb648" opacity="0.7"/>
<circle cx="337.6" cy="549.8" r="1.2" fill="#fdb648" opacity="0.7"/>
<circle cx="347.5" cy="350.2" r="0.8" fill="#fdb648" opacity="0.7"/>
<circle cx="394.1" cy="494.0" r="0.7" fill="#fdb648" opacity="0.7"/>
<circle cx="314.8" cy="450.2" r="1.1" fill="#fdb648" opacity="0.7"/>
<circle cx="359.3" cy="374.3" r="1.1" fill="#fdb648" opacity="0.7"/>
<circle cx="306.5" cy="394.0" r="1.0" fill="#fdb648" opacity="0.7"/>
<circle cx="439.3" cy="480.4" r="1.4" fill="#fdb648" opacity="0.7"/>
<circle cx="371.5" cy="377.2" r="0.8" fill="#fdb648" opacity="0.7"/>
<linearGradient id="gFoam" gradientUnits="userSpaceOnUse" x1="0" x2="0" y1="585" y2="682"><stop offset="0" stop-color="#fdbb12"/><stop offset="0.35" stop-color="#fcb414"/><stop offset="0.75" stop-color="#f99d1a"/><stop offset="1" stop-color="#f7931c"/></linearGradient>
<path d="M296 584 A4.4 4.4 0 0 1 303 583.5 A4.5 4.5 0 0 1 310 585.5 A4.7 4.7 0 0 1 316 590 A5.0 5.0 0 0 1 322 595.5 A5.6 5.6 0 0 1 331 596.5 A5.7 5.7 0 0 1 340 598 A5.6 5.6 0 0 1 349 599 A5.6 5.6 0 0 1 358 600 A5.0 5.0 0 0 1 366 601.5 A4.7 4.7 0 0 1 372 606 A5.2 5.2 0 0 1 380 608.5 A5.6 5.6 0 0 1 389 609 A5.7 5.7 0 0 1 398 607.5 A5.2 5.2 0 0 1 405 603 A4.3 4.3 0 0 1 411 599.5 A4.9 4.9 0 0 1 418 596 A5.3 5.3 0 0 1 426 593 A5.1 5.1 0 0 1 434 591 A5.7 5.7 0 0 1 443 589 A5.6 5.6 0 0 1 452 588 A5.7 5.7 0 0 1 461 589.5 A5.0 5.0 0 0 1 469 591 A5.0 5.0 0 0 1 477 591.5 A4.6 4.6 0 0 1 484 589 A4.5 4.5 0 0 1 491 587 L492 700 L296 700 Z" fill="url(#gFoam)"/>
<path d="M314 678 A4.6 4.6 0 0 0 321 677.5 A4.9 4.9 0 0 0 328 680 A4.7 4.7 0 0 0 335 681.5 A4.7 4.7 0 0 0 342 683 A4.6 4.6 0 0 0 349 683 A5.0 5.0 0 0 0 356 686 A5.3 5.3 0 0 0 364 686 A5.4 5.4 0 0 0 372 688 A5.3 5.3 0 0 0 380 687 A5.4 5.4 0 0 0 388 689 A5.6 5.6 0 0 0 396 686 A4.8 4.8 0 0 0 403 684 A4.6 4.6 0 0 0 410 683.5 A5.0 5.0 0 0 0 417 680.5 A4.6 4.6 0 0 0 424 680 A4.9 4.9 0 0 0 431 677.5 A4.0 4.0 0 0 0 437 677 A3.4 3.4 0 0 0 442 676 L442 750 L345.6 748 L314 755 Z" fill="url(#gYel)"/>
<path d="M297 583 L315 612 L315 642.5 L297 641 Z" fill="#262626"/>
<path d="M440.5 625 L487.4 593.6 L490 646 L440.5 647.5 Z" fill="#2b2b2b"/>
<circle cx="349.2" cy="619.3" r="3.2" fill="#ffe21a" filter="url(#b05)"/>
<circle cx="356.8" cy="647" r="3.4" fill="#ffe21a" filter="url(#b05)"/>
<circle cx="325.3" cy="654.6" r="4" fill="#ffe21a" filter="url(#b05)"/>
<circle cx="331.6" cy="642" r="2.2" fill="#ffe21a" filter="url(#b05)"/>
<circle cx="348" cy="674.8" r="3" fill="#ffe21a" filter="url(#b05)"/>
<circle cx="334" cy="675" r="2.4" fill="#ffe21a" filter="url(#b05)"/>
<circle cx="425" cy="649.5" r="3.4" fill="#ffe21a" filter="url(#b05)"/>
<circle cx="388.3" cy="669.7" r="3" fill="#ffe21a" filter="url(#b05)"/>
<circle cx="415.6" cy="614" r="2.4" fill="#ffe21a" filter="url(#b05)"/>
<circle cx="371" cy="663" r="2.6" fill="#ffe21a" filter="url(#b05)"/>
<circle cx="398" cy="655" r="3" fill="#ffe21a" filter="url(#b05)"/>
<circle cx="448.5" cy="514.8" r="3.8" fill="#fdb515" filter="url(#b05)"/>
<circle cx="464.9" cy="540" r="3" fill="#fdb515" filter="url(#b05)"/>
<circle cx="441.4" cy="562.7" r="4.6" fill="#fdb515" filter="url(#b05)"/>
<circle cx="331.7" cy="558.9" r="4.6" fill="#fdb515" filter="url(#b05)"/>
<circle cx="351.9" cy="552.6" r="4.8" fill="#fdb515" filter="url(#b05)"/>
<circle cx="388" cy="550" r="4.6" fill="#fdb515" filter="url(#b05)"/>
<circle cx="377" cy="569" r="2.8" fill="#fdb515" filter="url(#b05)"/>
<circle cx="396" cy="574" r="3.3" fill="#fdb515" filter="url(#b05)"/>
<circle cx="404.8" cy="591.7" r="3.3" fill="#fdb515" filter="url(#b05)"/>
<circle cx="346.8" cy="595.5" r="3.3" fill="#fdb515" filter="url(#b05)"/>
<circle cx="300" cy="564" r="3" fill="#fdb515" filter="url(#b05)"/>
<circle cx="369" cy="545" r="3" fill="#fdb515" filter="url(#b05)"/>
</g>
<rect x="301.7" y="360.0" width="4" height="4.4" fill="#0a1624"/>
<rect x="301.5" y="367.3" width="4" height="4.4" fill="#0a1624"/>
<rect x="301.3" y="374.6" width="4" height="4.4" fill="#0a1624"/>
<rect x="301.0" y="381.9" width="4" height="4.4" fill="#0a1624"/>
<rect x="300.8" y="389.2" width="4" height="4.4" fill="#0a1624"/>
<rect x="300.6" y="396.5" width="4" height="4.4" fill="#0a1624"/>
<rect x="300.4" y="403.8" width="4" height="4.4" fill="#0a1624"/>
<rect x="300.2" y="411.1" width="4" height="4.4" fill="#0a1624"/>
<rect x="300.0" y="418.4" width="4" height="4.4" fill="#0a1624"/>
<rect x="299.8" y="425.7" width="4" height="4.4" fill="#0a1624"/>
<rect x="299.6" y="433.0" width="4" height="4.4" fill="#0a1624"/>
<rect x="299.3" y="440.3" width="4" height="4.4" fill="#0a1624"/>
<rect x="299.1" y="447.6" width="4" height="4.4" fill="#0a1624"/>
<rect x="298.9" y="454.9" width="4" height="4.4" fill="#0a1624"/>
<rect x="298.7" y="462.2" width="4" height="4.4" fill="#0a1624"/>
<rect x="298.5" y="469.5" width="4" height="4.4" fill="#0a1624"/>
<rect x="298.3" y="476.8" width="4" height="4.4" fill="#0a1624"/>
<rect x="298.1" y="484.1" width="4" height="4.4" fill="#0a1624"/>
<rect x="297.9" y="491.4" width="4" height="4.4" fill="#0a1624"/>
<rect x="297.6" y="498.7" width="4" height="4.4" fill="#0a1624"/>
<rect x="297.4" y="506.0" width="4" height="4.4" fill="#0a1624"/>
<rect x="297.2" y="513.3" width="4" height="4.4" fill="#0a1624"/>
<rect x="297.0" y="520.6" width="4" height="4.4" fill="#0a1624"/>
<rect x="296.8" y="527.9" width="4" height="4.4" fill="#0a1624"/>
<rect x="296.6" y="535.2" width="4" height="4.4" fill="#0a1624"/>
<rect x="296.4" y="542.5" width="4" height="4.4" fill="#0a1624"/>
<rect x="296.1" y="549.8" width="4" height="4.4" fill="#0a1624"/>
<rect x="295.9" y="557.1" width="4" height="4.4" fill="#0a1624"/>
<rect x="295.7" y="564.4" width="4" height="4.4" fill="#0a1624"/>
<rect x="295.5" y="571.7" width="4" height="4.4" fill="#0a1624"/>
<rect x="295.3" y="579.0" width="4" height="4.4" fill="#0a1624"/>
<rect x="317.6" y="322.0" width="4.6" height="5" fill="#0a1624"/>
<rect x="314.8" y="327.7" width="4.6" height="5" fill="#0a1624"/>
<rect x="312.1" y="333.3" width="4.6" height="5" fill="#0a1624"/>
<rect x="309.3" y="339.0" width="4.6" height="5" fill="#0a1624"/>
<rect x="306.5" y="344.7" width="4.6" height="5" fill="#0a1624"/>
<rect x="303.8" y="350.3" width="4.6" height="5" fill="#0a1624"/>
<path d="M320.6 169 C335 165 352 164.3 366 165.6 C388 168 408 180 418.3 198" fill="none" stroke="#0b121c" stroke-width="4"/>
<path d="M416 197 L423.5 196 Q426 202 426.3 210 L428.5 300 L430 349 L430.6 366.5 Q425.5 369 420.6 366.5 Z" fill="#2d6fae"/>
<path d="M416.3 197 L420.8 366" stroke="#173f6c" stroke-width="1" fill="none" opacity="0.6"/>
<circle cx="433.5" cy="356.0" r="2.2" fill="#3a7cba" stroke="#184c84" stroke-width="1.5"/>
<circle cx="440.4" cy="361.2" r="2.2" fill="#3a7cba" stroke="#184c84" stroke-width="1.5"/>
<circle cx="447.3" cy="366.5" r="2.2" fill="#3a7cba" stroke="#184c84" stroke-width="1.5"/>
<circle cx="454.2" cy="371.8" r="2.2" fill="#3a7cba" stroke="#184c84" stroke-width="1.5"/>
<circle cx="461.2" cy="377.0" r="2.2" fill="#3a7cba" stroke="#184c84" stroke-width="1.5"/>
<circle cx="468.1" cy="382.2" r="2.2" fill="#3a7cba" stroke="#184c84" stroke-width="1.5"/>
<circle cx="475.0" cy="387.5" r="2.2" fill="#3a7cba" stroke="#184c84" stroke-width="1.5"/>
<circle cx="484.0" cy="400.5" r="2.2" fill="#3a7cba" stroke="#184c84" stroke-width="1.5"/>
<circle cx="484.4" cy="408.7" r="2.2" fill="#3a7cba" stroke="#184c84" stroke-width="1.5"/>
<circle cx="484.8" cy="416.9" r="2.2" fill="#3a7cba" stroke="#184c84" stroke-width="1.5"/>
<circle cx="485.3" cy="425.1" r="2.2" fill="#3a7cba" stroke="#184c84" stroke-width="1.5"/>
<circle cx="485.7" cy="433.3" r="2.2" fill="#3a7cba" stroke="#184c84" stroke-width="1.5"/>
<circle cx="486.1" cy="441.5" r="2.2" fill="#3a7cba" stroke="#184c84" stroke-width="1.5"/>
<circle cx="486.5" cy="449.7" r="2.2" fill="#3a7cba" stroke="#184c84" stroke-width="1.5"/>
<circle cx="487.0" cy="457.9" r="2.2" fill="#3a7cba" stroke="#184c84" stroke-width="1.5"/>
<circle cx="487.4" cy="466.1" r="2.2" fill="#3a7cba" stroke="#184c84" stroke-width="1.5"/>
<circle cx="487.8" cy="474.3" r="2.2" fill="#3a7cba" stroke="#184c84" stroke-width="1.5"/>
<circle cx="488.2" cy="482.5" r="2.2" fill="#3a7cba" stroke="#184c84" stroke-width="1.5"/>
<circle cx="488.7" cy="490.7" r="2.2" fill="#3a7cba" stroke="#184c84" stroke-width="1.5"/>
<circle cx="489.1" cy="498.9" r="2.2" fill="#3a7cba" stroke="#184c84" stroke-width="1.5"/>
<circle cx="489.5" cy="507.1" r="2.2" fill="#3a7cba" stroke="#184c84" stroke-width="1.5"/>
<circle cx="490.0" cy="515.3" r="2.2" fill="#3a7cba" stroke="#184c84" stroke-width="1.5"/>
<circle cx="490.4" cy="523.5" r="2.2" fill="#3a7cba" stroke="#184c84" stroke-width="1.5"/>
<circle cx="490.8" cy="531.7" r="2.2" fill="#3a7cba" stroke="#184c84" stroke-width="1.5"/>
<circle cx="491.2" cy="539.9" r="2.2" fill="#3a7cba" stroke="#184c84" stroke-width="1.5"/>
<circle cx="491.7" cy="548.1" r="2.2" fill="#3a7cba" stroke="#184c84" stroke-width="1.5"/>
<circle cx="492.1" cy="556.3" r="2.2" fill="#3a7cba" stroke="#184c84" stroke-width="1.5"/>
<circle cx="492.5" cy="564.5" r="2.2" fill="#3a7cba" stroke="#184c84" stroke-width="1.5"/>
<circle cx="492.9" cy="572.7" r="2.2" fill="#3a7cba" stroke="#184c84" stroke-width="1.5"/>
<circle cx="493.4" cy="580.9" r="2.2" fill="#3a7cba" stroke="#184c84" stroke-width="1.5"/>
<circle cx="493.8" cy="589.1" r="2.2" fill="#3a7cba" stroke="#184c84" stroke-width="1.5"/>
<g transform="translate(436.8 412.5) rotate(25.48)"><rect x="-7.3" y="0" width="14.6" height="59.3" fill="url(#gPipeR)" rx="4.5"/></g>
<path d="M404.2 460 L418.6 468.8 L417.2 471.4 L403 462.6 Z" fill="#444"/>
<path d="M406.5 464 L416.5 470 Q404 512 376 549 Q368 556 363 550 Q360 540 370 520 Q388 488 406.5 464 Z" fill="url(#gFlame)" filter="url(#b1)"/>
<path d="M408.5 466 L414.5 470 Q402 500 388 520 Q392 496 408.5 466 Z" fill="#fffbe0" opacity="0.8" filter="url(#b1)"/>
<g transform="translate(452 569) rotate(36)"><rect x="-6" y="0" width="12" height="26" rx="6" fill="#f0f0f4"/><rect x="-6" y="2" width="4" height="24" rx="2" fill="#8d8d95"/><rect x="1" y="3" width="1.2" height="22" fill="#b5b5bd"/></g>
<path d="M424 600 Q426 594 431 593.5 Q437 591 444 594 Q450 592 457 594 Q463 591 470 592 L472 604 L424 604 Z" fill="#fdb913"/>
<g transform="translate(417 625) rotate(40)"><rect x="-7.5" y="0" width="15" height="17" rx="4" fill="#f4f4f6"/><rect x="-7.5" y="1" width="4" height="15" rx="2" fill="#b4b4bc"/><rect x="-7.5" y="11" width="15" height="2.2" fill="#8a8a92"/><rect x="-5.5" y="15" width="11" height="2.6" rx="1" fill="#55555c"/></g>
<g transform="translate(402.0 645.0) rotate(10)" fill="#1d0e08"><rect x="-2.8" y="-0.9" width="5.6" height="1.9"/><rect x="-0.9" y="-1" width="1.9" height="4.2"/></g>
<g transform="translate(395.8 650.2) rotate(19)" fill="#1d0e08"><rect x="-2.8" y="-0.9" width="5.6" height="1.9"/><rect x="-0.9" y="-1" width="1.9" height="4.2"/></g>
<g transform="translate(389.7 655.5) rotate(24)" fill="#1d0e08"><rect x="-2.8" y="-0.9" width="5.6" height="1.9"/><rect x="-0.9" y="-1" width="1.9" height="4.2"/></g>
<g transform="translate(383.5 660.7) rotate(35)" fill="#1d0e08"><rect x="-2.8" y="-0.9" width="5.6" height="1.9"/><rect x="-0.9" y="-1" width="1.9" height="4.2"/></g>
<g transform="translate(377.4 665.9) rotate(19)" fill="#1d0e08"><rect x="-2.8" y="-0.9" width="5.6" height="1.9"/><rect x="-0.9" y="-1" width="1.9" height="4.2"/></g>
<g transform="translate(371.2 671.2) rotate(34)" fill="#1d0e08"><rect x="-2.8" y="-0.9" width="5.6" height="1.9"/><rect x="-0.9" y="-1" width="1.9" height="4.2"/></g>
<g transform="translate(365.1 676.4) rotate(-38)" fill="#1d0e08"><rect x="-2.8" y="-0.9" width="5.6" height="1.9"/><rect x="-0.9" y="-1" width="1.9" height="4.2"/></g>
<circle cx="378.5" cy="672.3" r="1.2" fill="#2a1608"/>
<circle cx="393.6" cy="651.1" r="1.1" fill="#2a1608"/>
<circle cx="363.3" cy="674.5" r="0.7" fill="#2a1608"/>
<circle cx="353.5" cy="691.3" r="0.8" fill="#2a1608"/>
<circle cx="393.0" cy="651.9" r="0.6" fill="#2a1608"/>
<circle cx="348.0" cy="689.7" r="0.9" fill="#2a1608"/>
<circle cx="349.1" cy="698.5" r="0.7" fill="#2a1608"/>
<circle cx="359.3" cy="686.9" r="0.9" fill="#2a1608"/>
<circle cx="352.8" cy="695.6" r="0.5" fill="#2a1608"/>
<circle cx="388.9" cy="652.9" r="0.9" fill="#2a1608"/>
<circle cx="361.4" cy="680.2" r="0.7" fill="#2a1608"/>
<circle cx="385.3" cy="662.6" r="0.8" fill="#2a1608"/>
<circle cx="375.5" cy="668.5" r="1.2" fill="#2a1608"/>
<circle cx="399.7" cy="648.3" r="0.6" fill="#2a1608"/>
<circle cx="354.9" cy="689.4" r="0.4" fill="#2a1608"/>
<circle cx="396.1" cy="650.1" r="0.8" fill="#2a1608"/>
<circle cx="363.9" cy="691.5" r="0.6" fill="#2a1608"/>
<circle cx="380.7" cy="667.0" r="0.6" fill="#2a1608"/>
<circle cx="362.6" cy="690.2" r="0.4" fill="#2a1608"/>
<circle cx="341.9" cy="695.1" r="0.7" fill="#2a1608"/>
<circle cx="347.2" cy="700.7" r="0.7" fill="#2a1608"/>
<circle cx="381.5" cy="660.9" r="0.6" fill="#2a1608"/>
<circle cx="392.8" cy="656.3" r="0.7" fill="#2a1608"/>
<circle cx="399.4" cy="648.7" r="1.0" fill="#2a1608"/>
<circle cx="387.6" cy="660.6" r="1.0" fill="#2a1608"/>
<circle cx="373.0" cy="671.8" r="0.5" fill="#2a1608"/>
<circle cx="376.1" cy="669.7" r="1.0" fill="#2a1608"/>
<circle cx="349.7" cy="700.9" r="0.4" fill="#2a1608"/>
<circle cx="373.0" cy="672.0" r="0.7" fill="#2a1608"/>
<circle cx="379.6" cy="673.1" r="1.3" fill="#2a1608"/>
<circle cx="374.9" cy="672.2" r="0.9" fill="#2a1608"/>
<circle cx="383.3" cy="659.6" r="0.9" fill="#2a1608"/>
<circle cx="352.7" cy="701.0" r="0.6" fill="#2a1608"/>
<circle cx="378.2" cy="662.8" r="1.2" fill="#2a1608"/>
<circle cx="350.4" cy="696.2" r="0.8" fill="#2a1608"/>
<circle cx="363.8" cy="686.1" r="0.7" fill="#2a1608"/>
<circle cx="358.6" cy="683.9" r="0.9" fill="#2a1608"/>
<circle cx="359.6" cy="687.7" r="0.9" fill="#2a1608"/>
<circle cx="362.9" cy="677.8" r="0.6" fill="#2a1608"/>
<circle cx="362.6" cy="685.3" r="0.9" fill="#2a1608"/>
<circle cx="354.1" cy="690.7" r="0.8" fill="#2a1608"/>
<circle cx="352.4" cy="694.6" r="0.9" fill="#2a1608"/>
<circle cx="367.8" cy="687.7" r="0.8" fill="#2a1608"/>
<circle cx="367.6" cy="677.4" r="1.2" fill="#2a1608"/>
<circle cx="375.5" cy="673.5" r="1.0" fill="#2a1608"/>
<circle cx="392.1" cy="655.7" r="1.2" fill="#2a1608"/>
<circle cx="377.9" cy="670.7" r="1.0" fill="#2a1608"/>
<circle cx="354.6" cy="681.4" r="0.7" fill="#2a1608"/>
<circle cx="361.0" cy="682.9" r="0.9" fill="#2a1608"/>
<circle cx="397.6" cy="647.3" r="0.7" fill="#2a1608"/>
<circle cx="391.7" cy="651.8" r="0.8" fill="#2a1608"/>
<circle cx="397.9" cy="647.5" r="1.2" fill="#2a1608"/>
<circle cx="364.7" cy="681.5" r="0.4" fill="#2a1608"/>
<circle cx="375.8" cy="667.3" r="0.6" fill="#2a1608"/>
<circle cx="352.6" cy="685.6" r="0.7" fill="#2a1608"/>
<circle cx="395.0" cy="650.5" r="1.2" fill="#2a1608"/>
<circle cx="352.1" cy="696.7" r="0.8" fill="#2a1608"/>
<circle cx="363.2" cy="677.3" r="0.8" fill="#2a1608"/>
<circle cx="373.7" cy="680.5" r="0.9" fill="#2a1608"/>
<circle cx="383.8" cy="661.7" r="0.6" fill="#2a1608"/>
<path d="M297.3 640 L315 642.5 L315 754 L345.6 747.5 L441 747.5 L441 738 L500.5 738 L500.5 777.9 L348 775 L294.3 788 Z" fill="#fdebd9"/>
<path d="M294.3 788 L348 775 L345.6 747.5 L315 754 Z" fill="#f6dcc3"/>
<path d="M441.4 647 L500.5 645 L500.5 716 L441.4 716 Z" fill="#fdebd9"/>
<linearGradient id="gStrip" gradientUnits="userSpaceOnUse" x1="294" x2="513" y1="0" y2="0"><stop offset="0" stop-color="#143d6b"/><stop offset="0.3" stop-color="#1b4f88"/><stop offset="1" stop-color="#1f5a96"/></linearGradient>
<path d="M294 796.8 L294.3 788 L348 775 L513 778.1 L513 784.4 L348 780.5 Z" fill="url(#gStrip)"/>
<path d="M503.4 684.4 L520.4 684.4 L532.4 690.7 L540 700 L504 708 L500.3 704 L500.3 684.4 Z" fill="#1f5c99"/>
<path d="M517.3 636.5 L529.3 629 L532.4 690.7 L520.4 684.4 Z" fill="#050505"/>
<path d="M529.3 629 L741 626.5 L748 669 L748 676.5 L655 677.5 L665 786 L541.3 785 L541.3 760 L529 700 Z" fill="#4d95da"/>
<path d="M500.3 704.5 L505 704.7 L529 697 L540.5 688 L554 673 L560.7 650 L568 645 L586 640 L593.5 627.7 L740.5 626.8 L745 669.7 L653.5 669.7 L654 675.7 L662.8 774 L616 771.5 L598.5 761.4 L573 766.5 L553 759 L541.8 764 L540 754.8 L507.8 754.8 L507.8 778 L470 777.3 L470 700 Z" fill="#fdebd9"/>
<path d="M440 718.5 L480 714.5 L505 708.4 L538 698 L553 678 L565.7 651.7 L600 650 L640 648 L735 645.5 Q746 652 738 659.5 L644 661.8 L641.4 663 L647.7 738 L480 738.4 L440 739.5 Z" fill="url(#gYel2)"/>
<path d="M507.8 754.8 L540 754.8 L540 784.4 L513.5 784.4 L513.5 761.7 L507.8 761.7 Z" fill="#15406e"/>
<path d="M513.5 763 L526 763 L538 784.4 L513.5 784.4 Z" fill="#9a9494"/>
<path d="M526 761.7 L540 761.7 L540 784.4 L538 784.4 Z" fill="#050505"/>
<path d="M507.8 754.8 L513.5 754.8 L513.5 784.4 L507.8 784.4 Z" fill="#2a66a4"/>
<path d="M437.6 724.725 L456.74 724.725 L456.74 720.0 L470.6 730.5 L456.74 741.0 L456.74 736.275 L437.6 736.275 Z" fill="#e0bd16" opacity="0.8"/>
<path d="M540.5 708.8 L560.22 708.8 L560.22 703.4 L574.5 715.4 L560.22 727.4 L560.22 722.0 L540.5 722.0 Z" fill="#b2a43a" opacity="1"/>
<path d="M608.6 647.9749999999999 L628.32 647.9749999999999 L628.32 642.8 L642.6 654.3 L628.32 665.8 L628.32 660.625 L608.6 660.625 Z" fill="#b2a43a" opacity="1"/>
<path d="M702.7 652.875 L718.36 652.875 L718.36 649.5 L729.7 657 L718.36 664.5 L718.36 661.125 L702.7 661.125 Z" fill="#b2a43a" opacity="0.45"/>
<linearGradient id="gPipeLL2" gradientUnits="userSpaceOnUse" x1="143" y1="467" x2="158.1" y2="455.4"><stop offset="0" stop-color="#555"/><stop offset="0.15" stop-color="#a0a0a0"/><stop offset="0.4" stop-color="#cfcfcf"/><stop offset="0.75" stop-color="#e0e0e0"/><stop offset="1" stop-color="#b8b8b8"/></linearGradient>
<path d="M143 467 L158 455 L218.5 534 Q221.5 546 217.5 555 Q213.5 556.5 210 553 Z" fill="url(#gPipeLL2)"/>
<path d="M218.5 534 Q221.5 546 217.5 555 Q213.5 556.5 210 553 Q216 546 214 536 Z" fill="#fafafa" opacity="0.85" filter="url(#b05)"/>
<ellipse cx="212" cy="541" rx="6" ry="12" transform="rotate(-35 212 541)" fill="#9c9c9c" opacity="0.0"/>
<g transform="translate(258.0 235) rotate(-16)"><rect x="0" y="0" width="13" height="8.6" rx="2.2" fill="#222"/><rect x="2" y="0.8" width="9" height="2.8" rx="1" fill="#a4a4a4"/></g>
<g transform="translate(257.4 246.5) rotate(-16)"><rect x="0" y="0" width="13" height="8.6" rx="2.2" fill="#222"/><rect x="2" y="0.8" width="9" height="2.8" rx="1" fill="#a4a4a4"/></g>
<g transform="translate(256.8 258) rotate(-16)"><rect x="0" y="0" width="13" height="8.6" rx="2.2" fill="#222"/><rect x="2" y="0.8" width="9" height="2.8" rx="1" fill="#a4a4a4"/></g>
<g transform="translate(256.2 269) rotate(-16)"><rect x="0" y="0" width="13" height="8.6" rx="2.2" fill="#222"/><rect x="2" y="0.8" width="9" height="2.8" rx="1" fill="#a4a4a4"/></g>
<g transform="translate(428.5 249) rotate(8)"><rect x="0" y="0" width="11" height="7.5" rx="2.5" fill="#141414"/></g>
<g transform="translate(428.5 262) rotate(8)"><rect x="0" y="0" width="11" height="7.5" rx="2.5" fill="#141414"/></g>
<g transform="translate(428.5 274) rotate(8)"><rect x="0" y="0" width="11" height="7.5" rx="2.5" fill="#141414"/></g>
<ellipse cx="288.5" cy="212" rx="4" ry="6.2" fill="#0c1a2c" filter="url(#b05)"/>
<ellipse cx="288.5" cy="227.5" rx="4" ry="6.2" fill="#0c1a2c" filter="url(#b05)"/>
<ellipse cx="288.5" cy="243" rx="4" ry="6.2" fill="#0c1a2c" filter="url(#b05)"/>
<circle cx="303.5" cy="205.8" r="3.05" fill="#141c28" stroke="#eceef2" stroke-width="2.6"/>
<circle cx="303.5" cy="219.8" r="3.05" fill="#141c28" stroke="#eceef2" stroke-width="2.6"/>
<circle cx="303.5" cy="234.8" r="3.05" fill="#141c28" stroke="#eceef2" stroke-width="2.6"/>
<rect x="29" y="354.4" width="740" height="3.2" fill="#c8293c"/>
<rect x="304" y="354.4" width="117" height="3.2" fill="#e5301f"/>
<path d="M352.6 60.5 L352.6 37 L481 37" stroke="#111" stroke-width="1.6" fill="none"/>
<path d="M491.3 37 L480.2 31.6 L480.2 42.4 Z" fill="#111"/>
<path d="M209.8 216.7 L242.2 230.4" stroke="#111" stroke-width="1.5" fill="none"/><path d="M251.4 234.3 L240.6 234.3 L243.8 226.5 Z" fill="#111"/>
<path d="M198.4 243 L240.7 259.6" stroke="#111" stroke-width="1.5" fill="none"/><path d="M250 263.3 L239.2 263.5 L242.2 255.7 Z" fill="#111"/>
<path d="M499 286.6 L479.7 318.4" stroke="#111" stroke-width="1.5" fill="none"/><path d="M474.5 327 L476.1 316.3 L483.3 320.6 Z" fill="#111"/>
<path d="M543.6 456.7 L513.2 497.9" stroke="#111" stroke-width="1.5" fill="none"/><path d="M507.3 506 L509.8 495.5 L516.6 500.4 Z" fill="#111"/>
<path d="M681 647 L724.5 647.0" stroke="#111" stroke-width="1.6" fill="none"/><path d="M735.5 647 L724.5 653.5 L724.5 640.5 Z" fill="#111"/>
<text x="498.8" y="36.7" font-size="17.8" fill="#111">CO2</text>
<text x="114" y="204.8" font-size="21.7" fill="#111">Iron ore</text>
<text x="112.6" y="248.4" font-size="21.7" fill="#111">Oxygen</text>
<text x="505.8" y="283.4" font-size="17.9" fill="#111">Oxygen</text>
<text x="635.6" y="326.3" font-size="21.5" fill="#c0303e">CCF Cyclone</text>
<text x="635.8" y="395.2" font-size="21.5" fill="#c0303e">SRV</text>
<text x="556" y="454.8" font-size="22" fill="#111">Coal</text>
<text x="630" y="613.2" font-size="21.7" fill="#111">Liquid Iron</text>
</svg></body></html>
